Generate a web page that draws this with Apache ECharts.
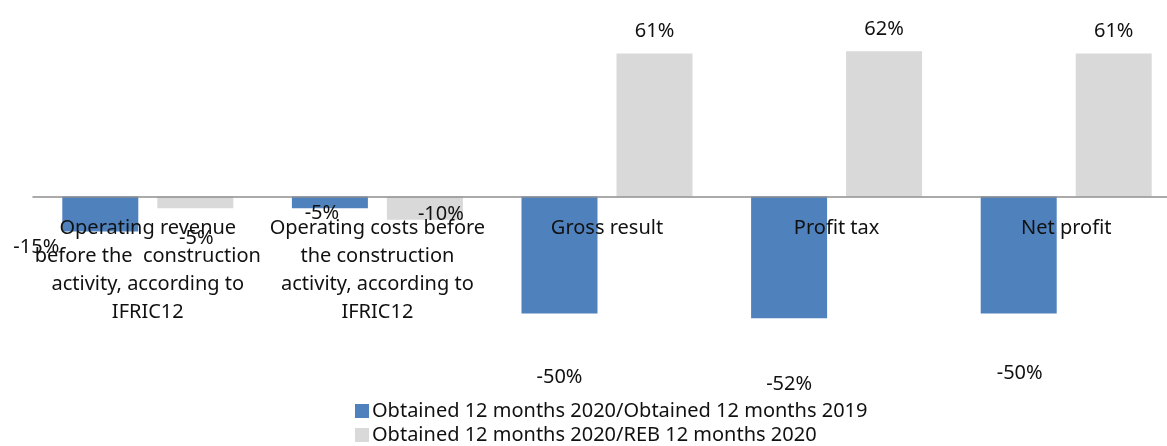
<!DOCTYPE html>
<html>
<head>
<meta charset="utf-8">
<script src="https://cdn.jsdelivr.net/npm/echarts@6/dist/echarts.min.js"></script>
<style>
html,body{margin:0;padding:0;background:#fff;}
#chart{width:1167px;height:446px;}
</style>
</head>
<body>
<div id="chart"></div>
<script>
const categories = [
  'Operating revenue\nbefore the  construction\nactivity, according to\nIFRIC12',
  'Operating costs before\nthe construction\nactivity, according to\nIFRIC12',
  'Gross result',
  'Profit tax',
  'Net profit'
];
const seriesNames = [
  'Obtained 12 months 2020/Obtained 12 months 2019',
  'Obtained 12 months 2020/REB 12 months 2020'
];
const obtainedVs2019 = [-15, -5, -50, -52, -50];
const obtainedVsREB = [-5, -10, 61, 62, 61];

// label styling (offsets in px), kept apart from the data
const blueLabelOffsets = [[-64, 4], [-8, -7], [0, 52], [0, 54], [1, 48]];
const greyLabelOffsets = [[1, 18], [16, -18], [0, 0], [0, 0], [0, 0]];

const FONT = '"Noto Sans", "Open Sans", sans-serif';
const Y_MIN = -60, Y_MAX = 80;
const GRID_TOP = 9, GRID_HEIGHT = 328;
// shift the category axis up so that it sits on the zero line
const axisOffset = -((0 - Y_MIN) / (Y_MAX - Y_MIN)) * GRID_HEIGHT;

function buildData(values, offsets) {
  return values.map((v, i) => ({
    value: v,
    label: {
      position: v < 0 ? 'bottom' : 'top',
      distance: v < 0 ? 0 : 10,
      offset: offsets[i]
    }
  }));
}

const chart = echarts.init(document.getElementById('chart'), null, {renderer: 'canvas'});
chart.setOption({
  animation: false,
  backgroundColor: '#ffffff',
  textStyle: {fontFamily: FONT},
  grid: {left: 33, right: -14, top: GRID_TOP, height: GRID_HEIGHT, containLabel: false, outerBoundsMode: 'none'},
  legend: {
    orient: 'vertical',
    left: 355,
    top: 401,
    padding: 0,
    itemWidth: 14,
    itemHeight: 14,
    itemGap: 4,
    icon: 'rect',
    textStyle: {fontFamily: FONT, fontSize: 20, color: '#111', lineHeight: 20, padding: [0, 0, 0, -2]},
    data: seriesNames
  },
  xAxis: {
    type: 'category',
    data: categories,
    z: 10,
    offset: axisOffset,
    axisLine: {show: true, onZero: false, lineStyle: {color: '#8f8f8f', width: 1.5}},
    axisTick: {show: false},
    axisLabel: {
      interval: 0,
      margin: 18,
      fontFamily: FONT,
      fontSize: 20,
      lineHeight: 28,
      color: '#111',
      align: 'center',
      hideOverlap: false
    },
    splitLine: {show: false}
  },
  yAxis: {
    type: 'value',
    show: false,
    min: Y_MIN,
    max: Y_MAX,
    interval: 20,
    splitLine: {show: false}
  },
  series: [
    {
      name: seriesNames[0],
      type: 'bar',
      barWidth: 76,
      barGap: '25%',
      itemStyle: {color: '#4f81bd'},
      label: {show: true, formatter: '{c}%', fontFamily: FONT, fontSize: 20, lineHeight: 24, color: '#111'},
      data: buildData(obtainedVs2019, blueLabelOffsets)
    },
    {
      name: seriesNames[1],
      type: 'bar',
      barWidth: 76,
      barGap: '25%',
      itemStyle: {color: '#d9d9d9'},
      label: {show: true, formatter: '{c}%', fontFamily: FONT, fontSize: 20, lineHeight: 24, color: '#111'},
      data: buildData(obtainedVsREB, greyLabelOffsets)
    }
  ]
});
</script>
</body>
</html>
